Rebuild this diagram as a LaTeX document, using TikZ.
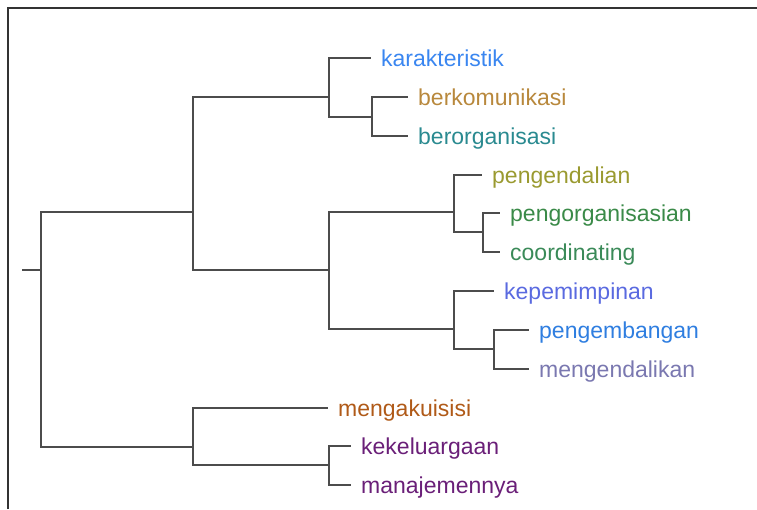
\documentclass[tikz,border=0pt]{standalone}
\usepackage{fontspec}
\setmainfont{Liberation Sans}
\definecolor{cKar}{HTML}{3A86F0}
\definecolor{cBerk}{HTML}{B8883C}
\definecolor{cBero}{HTML}{2A8A90}
\definecolor{cPend}{HTML}{9A9A30}
\definecolor{cPorg}{HTML}{3A8A48}
\definecolor{cCoor}{HTML}{3A8A58}
\definecolor{cKepe}{HTML}{5A6AE0}
\definecolor{cPemb}{HTML}{2F7EE0}
\definecolor{cMend}{HTML}{7A78B0}
\definecolor{cMeng}{HTML}{B05A18}
\definecolor{cKel}{HTML}{6A1F78}
\begin{document}
\begin{tikzpicture}[x=1pt,y=-1pt,
  branch/.style={draw=black!70,line width=2.3pt},
  frame/.style={draw=black!80,line width=1.5pt},
  leaf/.style={anchor=west,inner xsep=10pt,inner ysep=0pt,text height=17pt,text depth=0pt,
    font=\fontsize{23}{27}\selectfont}]
\useasboundingbox (0,0) rectangle (757,509);
\draw[frame] (8,509) -- (8,8) -- (757,8);
% junctions
\coordinate (stub) at (22,270);
\coordinate (root) at (41,270);
\coordinate (A) at (193,212);
\coordinate (B) at (193,447);
\coordinate (A1) at (329,97);
\coordinate (A11) at (372,117);
\coordinate (A2) at (329,270);
\coordinate (A21) at (454,212);
\coordinate (A211) at (483,232);
\coordinate (A22) at (454,329);
\coordinate (A221) at (494,349);
\coordinate (B2) at (329,465);
% leaves
\node[leaf,text=cKar] (kar) at (371,58) {karakteristik};
\node[leaf,text=cBerk] (berk) at (408,97) {berkomunikasi};
\node[leaf,text=cBero] (bero) at (408,136) {berorganisasi};
\node[leaf,text=cPend] (pend) at (482,175) {pengendalian};
\node[leaf,text=cPorg] (porg) at (500,213) {pengorganisasian};
\node[leaf,text=cCoor] (coor) at (500,252) {coordinating};
\node[leaf,text=cKepe] (kepe) at (494,291) {kepemimpinan};
\node[leaf,text=cPemb] (pemb) at (529,330) {pengembangan};
\node[leaf,text=cMend] (mend) at (529,369) {mengendalikan};
\node[leaf,text=cMeng] (meng) at (328,408) {mengakuisisi};
\node[leaf,text=cKel] (kel) at (351,446) {kekeluargaan};
\node[leaf,text=cKel] (man) at (351,485) {manajemennya};
% branches
\draw[branch] (stub) -- (root);
\draw[branch] (root) |- (A);
\draw[branch] (root) |- (B);
\draw[branch] (A) |- (A1);
\draw[branch] (A) |- (A2);
\draw[branch] (A1) |- (kar);
\draw[branch] (A1) |- (A11);
\draw[branch] (A11) |- (berk);
\draw[branch] (A11) |- (bero);
\draw[branch] (A2) |- (A21);
\draw[branch] (A2) |- (A22);
\draw[branch] (A21) |- (pend);
\draw[branch] (A21) |- (A211);
\draw[branch] (A211) |- (porg);
\draw[branch] (A211) |- (coor);
\draw[branch] (A22) |- (kepe);
\draw[branch] (A22) |- (A221);
\draw[branch] (A221) |- (pemb);
\draw[branch] (A221) |- (mend);
\draw[branch] (B) |- (meng);
\draw[branch] (B) |- (B2);
\draw[branch] (B2) |- (kel);
\draw[branch] (B2) |- (man);
\end{tikzpicture}
\end{document}
